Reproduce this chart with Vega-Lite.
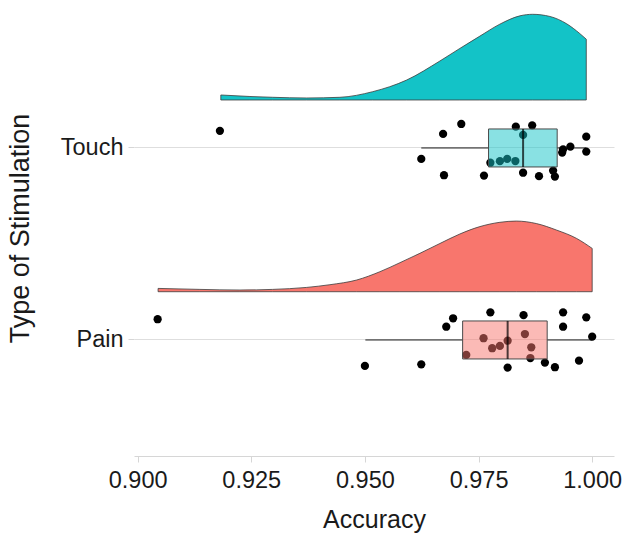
{
  "$schema": "https://vega.github.io/schema/vega-lite/v6.json",
  "width": 480,
  "height": 456,
  "autosize": {"type": "none"},
  "padding": {"left": 134, "top": 0, "right": 11, "bottom": 78},
  "background": "white",
  "config": {
    "view": {"stroke": null},
    "font": "Liberation Sans",
    "axis": {
      "labelFont": "Liberation Sans",
      "titleFont": "Liberation Sans",
      "labelFontSize": 23.5,
      "titleFontSize": 25,
      "labelColor": "#1a1a1a",
      "titleColor": "#1a1a1a",
      "titleFontWeight": "normal",
      "tickColor": "#d6d6d6",
      "domainColor": "#d6d6d6",
      "gridColor": "#dedede",
      "tickSize": 6
    }
  },
  "datasets": {
    "dens": [
      {"group": "Touch", "accuracy": 0.9183, "density": 1.63},
      {"group": "Touch", "accuracy": 0.9247, "density": 1.14},
      {"group": "Touch", "accuracy": 0.9297, "density": 0.88},
      {"group": "Touch", "accuracy": 0.9372, "density": 0.65},
      {"group": "Touch", "accuracy": 0.9445, "density": 0.88},
      {"group": "Touch", "accuracy": 0.9517, "density": 2.7},
      {"group": "Touch", "accuracy": 0.9592, "density": 6.51},
      {"group": "Touch", "accuracy": 0.9665, "density": 12.7},
      {"group": "Touch", "accuracy": 0.9709, "density": 16.8},
      {"group": "Touch", "accuracy": 0.9753, "density": 20.8},
      {"group": "Touch", "accuracy": 0.9797, "density": 24.7},
      {"group": "Touch", "accuracy": 0.9841, "density": 27.4},
      {"group": "Touch", "accuracy": 0.9869, "density": 27.9},
      {"group": "Touch", "accuracy": 0.9907, "density": 27.2},
      {"group": "Touch", "accuracy": 0.9944, "density": 24.8},
      {"group": "Touch", "accuracy": 0.9973, "density": 21.6},
      {"group": "Touch", "accuracy": 0.9987, "density": 19.8},
      {"group": "Pain", "accuracy": 0.9045, "density": 1.07},
      {"group": "Pain", "accuracy": 0.9137, "density": 0.75},
      {"group": "Pain", "accuracy": 0.9225, "density": 0.55},
      {"group": "Pain", "accuracy": 0.9297, "density": 0.75},
      {"group": "Pain", "accuracy": 0.9372, "density": 1.4},
      {"group": "Pain", "accuracy": 0.9423, "density": 2.28},
      {"group": "Pain", "accuracy": 0.9482, "density": 3.81},
      {"group": "Pain", "accuracy": 0.9533, "density": 6.51},
      {"group": "Pain", "accuracy": 0.9577, "density": 9.44},
      {"group": "Pain", "accuracy": 0.9621, "density": 12.5},
      {"group": "Pain", "accuracy": 0.9665, "density": 15.7},
      {"group": "Pain", "accuracy": 0.9709, "density": 18.8},
      {"group": "Pain", "accuracy": 0.9753, "density": 21.2},
      {"group": "Pain", "accuracy": 0.9797, "density": 22.6},
      {"group": "Pain", "accuracy": 0.9833, "density": 23.0},
      {"group": "Pain", "accuracy": 0.9877, "density": 22.2},
      {"group": "Pain", "accuracy": 0.9921, "density": 20.1},
      {"group": "Pain", "accuracy": 0.9965, "density": 17.4},
      {"group": "Pain", "accuracy": 1.0, "density": 14.1}
    ],
    "pts": [
      {"group": "Touch", "accuracy": 0.9181, "jitter": 0.089},
      {"group": "Touch", "accuracy": 0.9712, "jitter": 0.125},
      {"group": "Touch", "accuracy": 0.9672, "jitter": 0.073},
      {"group": "Touch", "accuracy": 0.9624, "jitter": -0.057},
      {"group": "Touch", "accuracy": 0.9674, "jitter": -0.142},
      {"group": "Touch", "accuracy": 0.9762, "jitter": -0.144},
      {"group": "Touch", "accuracy": 0.9776, "jitter": -0.077},
      {"group": "Touch", "accuracy": 0.9797, "jitter": -0.069},
      {"group": "Touch", "accuracy": 0.9813, "jitter": -0.057},
      {"group": "Touch", "accuracy": 0.9831, "jitter": -0.068},
      {"group": "Touch", "accuracy": 0.9832, "jitter": 0.111},
      {"group": "Touch", "accuracy": 0.9868, "jitter": 0.118},
      {"group": "Touch", "accuracy": 0.9848, "jitter": 0.068},
      {"group": "Touch", "accuracy": 0.9848, "jitter": -0.129},
      {"group": "Touch", "accuracy": 0.9883, "jitter": -0.147},
      {"group": "Touch", "accuracy": 0.9914, "jitter": -0.118},
      {"group": "Touch", "accuracy": 0.9918, "jitter": -0.149},
      {"group": "Touch", "accuracy": 0.9936, "jitter": -0.007},
      {"group": "Touch", "accuracy": 0.9934, "jitter": -0.024},
      {"group": "Touch", "accuracy": 0.9952, "jitter": 0.007},
      {"group": "Touch", "accuracy": 0.9987, "jitter": 0.059},
      {"group": "Touch", "accuracy": 0.9987, "jitter": -0.019},
      {"group": "Pain", "accuracy": 0.9044, "jitter": 0.108},
      {"group": "Pain", "accuracy": 0.95, "jitter": -0.135},
      {"group": "Pain", "accuracy": 0.9624, "jitter": -0.127},
      {"group": "Pain", "accuracy": 0.9679, "jitter": 0.069},
      {"group": "Pain", "accuracy": 0.9694, "jitter": 0.113},
      {"group": "Pain", "accuracy": 0.9723, "jitter": -0.078},
      {"group": "Pain", "accuracy": 0.9761, "jitter": 0.009},
      {"group": "Pain", "accuracy": 0.9776, "jitter": 0.144},
      {"group": "Pain", "accuracy": 0.978, "jitter": -0.043},
      {"group": "Pain", "accuracy": 0.9797, "jitter": -0.031},
      {"group": "Pain", "accuracy": 0.9814, "jitter": -0.004},
      {"group": "Pain", "accuracy": 0.9814, "jitter": -0.144},
      {"group": "Pain", "accuracy": 0.9849, "jitter": 0.129},
      {"group": "Pain", "accuracy": 0.9852, "jitter": 0.031},
      {"group": "Pain", "accuracy": 0.9866, "jitter": -0.038},
      {"group": "Pain", "accuracy": 0.9864, "jitter": -0.094},
      {"group": "Pain", "accuracy": 0.9896, "jitter": -0.118},
      {"group": "Pain", "accuracy": 0.9918, "jitter": -0.142},
      {"group": "Pain", "accuracy": 0.9936, "jitter": 0.144},
      {"group": "Pain", "accuracy": 0.9936, "jitter": 0.069},
      {"group": "Pain", "accuracy": 0.9971, "jitter": -0.108},
      {"group": "Pain", "accuracy": 0.9987, "jitter": 0.118},
      {"group": "Pain", "accuracy": 1.0, "jitter": 0.017}
    ],
    "box": [
      {"group": "Touch", "lower": 0.9624, "q1": 0.9772, "median": 0.9848, "q3": 0.9923, "upper": 0.9987},
      {"group": "Pain", "lower": 0.9501, "q1": 0.9715, "median": 0.9814, "q3": 0.9901, "upper": 1.0}
    ]
  },
  "resolve": {"scale": {"y": "independent"}, "axis": {"y": "independent"}},
  "layer": [
    {
      "data": {"name": "dens"},
      "transform": [{"filter": "datum.group === 'Touch'"}],
      "mark": {"type": "area", "interpolate": "monotone", "stroke": "#3c3c3c", "strokeWidth": 0.8},
      "encoding": {
        "x": {"field": "accuracy", "type": "quantitative", "scale": {"domain": [0.8992, 1.0048], "nice": false, "zero": false},
          "axis": {"values": [0.9, 0.925, 0.95, 0.975, 1.0], "format": ".3f", "grid": false, "title": "Accuracy", "labelPadding": 6, "titlePadding": 16}},
        "y": {"field": "density", "type": "quantitative", "scale": {"domain": [-115.92, 32.56], "nice": false, "zero": false}, "axis": null},
        "y2": {"datum": 0},
        "fill": {"field": "group", "type": "nominal", "scale": {"domain": ["Touch", "Pain"], "range": ["#13C3C7", "#F8766D"]}, "legend": null}
      }
    },
    {
      "data": {"name": "dens"},
      "transform": [{"filter": "datum.group === 'Pain'"}],
      "mark": {"type": "area", "interpolate": "monotone", "stroke": "#3c3c3c", "strokeWidth": 0.8},
      "encoding": {
        "x": {"field": "accuracy", "type": "quantitative"},
        "y": {"field": "density", "type": "quantitative", "scale": {"domain": [-53.5, 94.99], "nice": false, "zero": false}, "axis": null},
        "y2": {"datum": 0},
        "fill": {"field": "group", "type": "nominal", "legend": null}
      }
    },
    {
      "layer": [
        {
          "data": {"name": "box"},
          "mark": {"type": "rule", "color": "#1a1a1a", "strokeWidth": 1},
          "encoding": {
            "x": {"field": "lower", "type": "quantitative"},
            "x2": {"field": "q1"},
            "y": {"field": "group", "type": "nominal",
              "scale": {"domain": ["Touch", "Pain"], "paddingInner": 0.5, "paddingOuter": 0.4375, "align": 0.595},
              "axis": {"orient": "left", "title": "Type of Stimulation", "titleFontSize": 27, "domain": false, "grid": true, "bandPosition": 0.5, "labelPadding": 5, "titlePadding": 26}}
          }
        },
        {
          "data": {"name": "box"},
          "mark": {"type": "rule", "color": "#1a1a1a", "strokeWidth": 1},
          "encoding": {
            "x": {"field": "q3", "type": "quantitative"},
            "x2": {"field": "upper"},
            "y": {"field": "group", "type": "nominal"}
          }
        },
        {
          "data": {"name": "pts"},
          "mark": {"type": "point", "filled": true, "color": "black", "opacity": 1, "size": 68},
          "encoding": {
            "x": {"field": "accuracy", "type": "quantitative"},
            "y": {"field": "group", "type": "nominal"},
            "yOffset": {"field": "jitter", "type": "quantitative", "scale": {"domain": [-0.25, 0.25], "reverse": true}}
          }
        },
        {
          "data": {"name": "box"},
          "mark": {"type": "bar", "height": 38, "fillOpacity": 0.5, "stroke": "#4a4a4a", "strokeWidth": 1},
          "encoding": {
            "x": {"field": "q1", "type": "quantitative"},
            "x2": {"field": "q3"},
            "y": {"field": "group", "type": "nominal"},
            "fill": {"field": "group", "type": "nominal", "legend": null}
          }
        },
        {
          "data": {"name": "box"},
          "mark": {"type": "tick", "color": "black", "size": 38, "thickness": 2},
          "encoding": {
            "x": {"field": "median", "type": "quantitative"},
            "y": {"field": "group", "type": "nominal"}
          }
        }
      ]
    }
  ]
}
